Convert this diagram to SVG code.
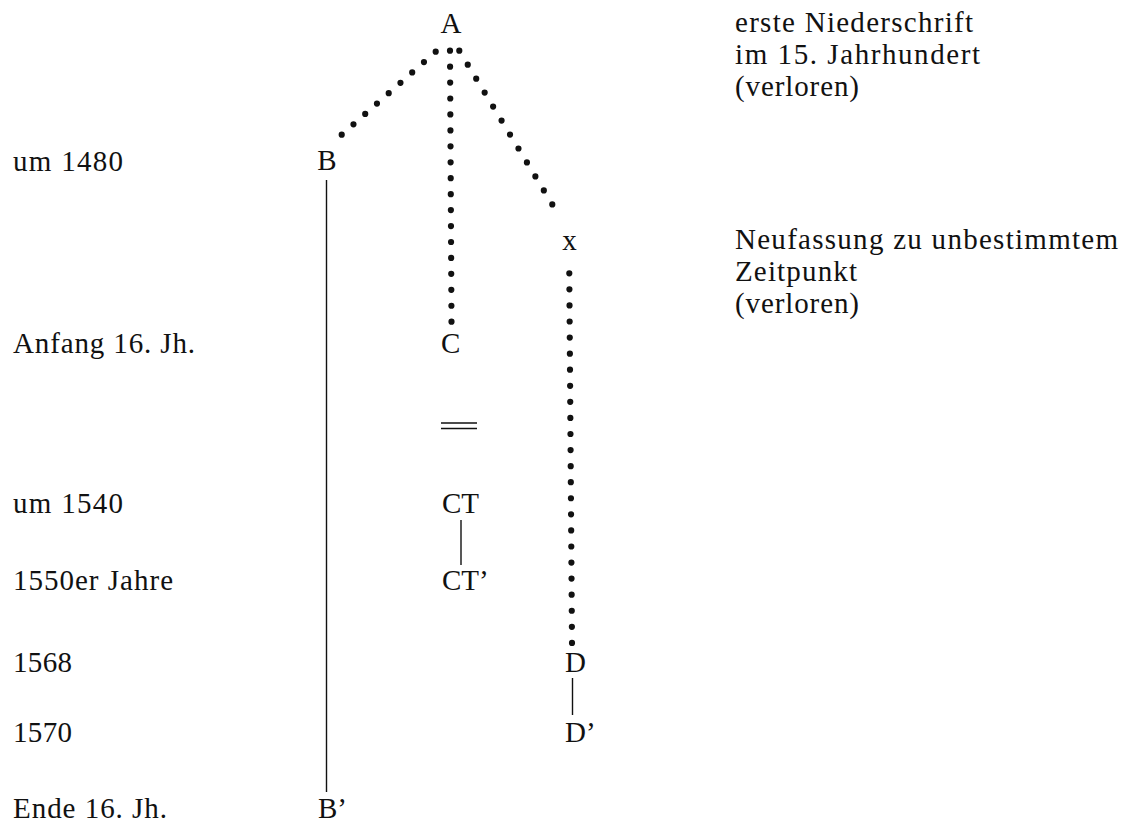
<svg xmlns="http://www.w3.org/2000/svg" width="1131" height="825" viewBox="0 0 1131 825">
<style>
text{font-family:"Liberation Serif","Times New Roman",serif;font-size:29px;fill:#111}
.c{text-anchor:middle}
.dot{fill:none;stroke:#111;stroke-width:6.2;stroke-linecap:round}
.ln{stroke:#111;stroke-width:1.4;fill:none}
</style>
<rect width="1131" height="825" fill="#fff"/>
<g id="labels-left">
<text x="13" y="171" textLength="110" lengthAdjust="spacing">um 1480</text>
<text x="13" y="353" textLength="182" lengthAdjust="spacing">Anfang 16. Jh.</text>
<text x="13" y="513" textLength="110" lengthAdjust="spacing">um 1540</text>
<text x="13" y="590" textLength="160" lengthAdjust="spacing">1550er Jahre</text>
<text x="13" y="672" textLength="59" lengthAdjust="spacing">1568</text>
<text x="13" y="742" textLength="59" lengthAdjust="spacing">1570</text>
<text x="13" y="818" textLength="154" lengthAdjust="spacing">Ende 16. Jh.</text>
</g>
<g id="notes-right">
<text x="735" y="32" textLength="238" lengthAdjust="spacing">erste Niederschrift</text>
<text x="735" y="64" textLength="245" lengthAdjust="spacing">im 15. Jahrhundert</text>
<text x="735" y="96" textLength="124" lengthAdjust="spacing">(verloren)</text>
<text x="735" y="249" textLength="383" lengthAdjust="spacing">Neufassung zu unbestimmtem</text>
<text x="735" y="281" textLength="122" lengthAdjust="spacing">Zeitpunkt</text>
<text x="735" y="313" textLength="124" lengthAdjust="spacing">(verloren)</text>
</g>
<g id="node-A"><text class="c" x="451" y="33">A</text></g>
<g id="node-B"><text class="c" x="327" y="170">B</text></g>
<g id="node-x"><text class="c" x="569.5" y="250">x</text></g>
<g id="node-C"><text x="441" y="353">C</text></g>
<g id="node-CT"><text x="442" y="513">CT</text></g>
<g id="node-CT2"><text x="442" y="590">CT’</text></g>
<g id="node-D"><text x="565" y="672">D</text></g>
<g id="node-D2"><text x="565" y="742">D’</text></g>
<g id="node-B2"><text x="318" y="818">B’</text></g>
<g id="connectors">
<line class="dot" x1="435.7" y1="51.7" x2="330" y2="145" stroke-dasharray="0 15.67"/>
<line class="dot" x1="450" y1="50.7" x2="451.5" y2="321.7" stroke-dasharray="0 15.94"/>
<line class="dot" x1="459.3" y1="50.7" x2="560.7" y2="218.3" stroke-dasharray="0 16.33"/>
<line class="dot" x1="569.3" y1="273.3" x2="572" y2="643" stroke-dasharray="0 16.07"/>
<line class="ln" x1="326.5" y1="180" x2="326.5" y2="792"/>
<line class="ln" x1="461" y1="520" x2="461" y2="565"/>
<line class="ln" x1="572.5" y1="678" x2="572.5" y2="715"/>
<line class="ln" x1="441" y1="423" x2="477" y2="423" stroke-width="1.6"/>
<line class="ln" x1="441" y1="428.5" x2="477" y2="428.5" stroke-width="1.6"/>
</g>
</svg>
